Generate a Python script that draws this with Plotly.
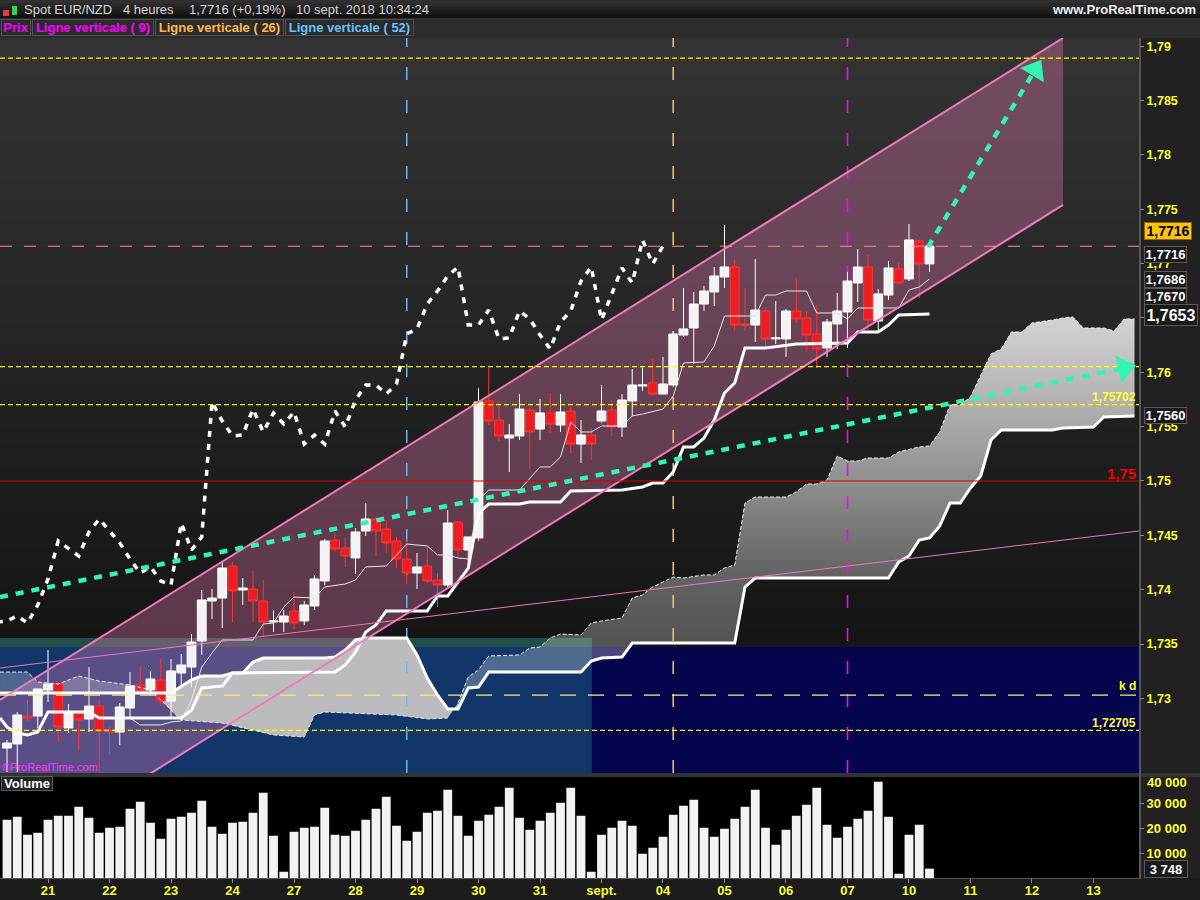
import plotly.graph_objects as go

# 4h bars, index 0 to 90
opens = [1.72543, 1.72580, 1.72837, 1.72837, 1.73077, 1.73132, 1.72727, 1.72865, 1.72810, 1.72929,
         1.72709, 1.72690, 1.72911, 1.73123, 1.73077, 1.73169, 1.72975, 1.73233, 1.73288, 1.73528,
         1.73896, 1.73923, 1.74218, 1.73997, 1.74006, 1.73896, 1.73702, 1.73702, 1.73804, 1.73712,
         1.73850, 1.74080, 1.74457, 1.74384, 1.74292, 1.74540, 1.74650, 1.74558, 1.74448, 1.74282,
         1.74153, 1.74218, 1.74089, 1.74043, 1.74623, 1.74365, 1.74476, 1.75736, 1.75561, 1.75395,
         1.75414, 1.75653, 1.75478, 1.75626, 1.75515, 1.75644, 1.75340, 1.75423, 1.75552, 1.75653,
         1.75497, 1.75736, 1.75874, 1.75902, 1.75800, 1.75883, 1.76343, 1.76408, 1.76628, 1.76739,
         1.76877, 1.76969, 1.76445, 1.76435, 1.76564, 1.76307, 1.76307, 1.76564, 1.76500, 1.76352,
         1.76224, 1.76445, 1.76555, 1.76822, 1.76969, 1.76472, 1.76711, 1.76951, 1.76859, 1.77208,
         1.76997]
highs = [1.72617, 1.72874, 1.72985, 1.73086, 1.73445, 1.73150, 1.72948, 1.72865, 1.73288, 1.72985,
         1.72736, 1.72957, 1.73242, 1.73298, 1.73252, 1.73362, 1.73362, 1.73408, 1.73592, 1.73997,
         1.74006, 1.74264, 1.74255, 1.74107, 1.74172, 1.74089, 1.73813, 1.73813, 1.73979, 1.73896,
         1.74135, 1.74466, 1.74521, 1.74476, 1.74567, 1.74797, 1.74669, 1.74641, 1.74485, 1.74457,
         1.74338, 1.74393, 1.74153, 1.74733, 1.74632, 1.74485, 1.75856, 1.76040, 1.75727, 1.75524,
         1.75800, 1.75671, 1.75754, 1.75810, 1.75800, 1.75681, 1.75561, 1.75488, 1.75883, 1.75745,
         1.75800, 1.76030, 1.76049, 1.76122, 1.76141, 1.76380, 1.76776, 1.76739, 1.76794, 1.76969,
         1.77356, 1.77033, 1.76776, 1.77043, 1.76601, 1.76656, 1.76582, 1.76868, 1.76564, 1.76619,
         1.76491, 1.76730, 1.76923, 1.77135, 1.77080, 1.76767, 1.77024, 1.77006, 1.77365, 1.77218,
         1.77162]
lows = [1.72322, 1.72322, 1.72792, 1.72727, 1.72966, 1.72598, 1.72681, 1.72525, 1.72690, 1.72322,
        1.72488, 1.72571, 1.72828, 1.73058, 1.73031, 1.72929, 1.72828, 1.73104, 1.73104, 1.73399,
        1.73730, 1.73647, 1.73702, 1.73859, 1.73702, 1.73564, 1.73610, 1.73610, 1.73638, 1.73675,
        1.73813, 1.74043, 1.74347, 1.74209, 1.74144, 1.74494, 1.74310, 1.74338, 1.74199, 1.74052,
        1.74006, 1.74061, 1.73841, 1.74025, 1.74292, 1.74181, 1.74448, 1.75515, 1.75368, 1.75083,
        1.75377, 1.75110, 1.75377, 1.75441, 1.75451, 1.75257, 1.75166, 1.75193, 1.75533, 1.75414,
        1.75405, 1.75598, 1.75828, 1.75791, 1.75800, 1.75865, 1.76325, 1.76076, 1.76564, 1.76610,
        1.76776, 1.76380, 1.76380, 1.76279, 1.76233, 1.76260, 1.76141, 1.76454, 1.76187, 1.76040,
        1.76141, 1.76215, 1.76224, 1.76647, 1.76389, 1.76362, 1.76665, 1.76813, 1.76840, 1.76684,
        1.76923]
closes = [1.72589, 1.72847, 1.72819, 1.73086, 1.73132, 1.72736, 1.72865, 1.72801, 1.72929, 1.72699,
          1.72690, 1.72920, 1.73113, 1.73077, 1.73178, 1.72975, 1.73252, 1.73307, 1.73518, 1.73905,
          1.73923, 1.74199, 1.73988, 1.74015, 1.73896, 1.73702, 1.73712, 1.73758, 1.73693, 1.73859,
          1.74098, 1.74448, 1.74375, 1.74310, 1.74531, 1.74650, 1.74540, 1.74430, 1.74282, 1.74153,
          1.74209, 1.74080, 1.74043, 1.74613, 1.74365, 1.74485, 1.75727, 1.75552, 1.75414, 1.75423,
          1.75662, 1.75451, 1.75626, 1.75524, 1.75635, 1.75340, 1.75423, 1.75340, 1.75644, 1.75497,
          1.75745, 1.75883, 1.75883, 1.75800, 1.75892, 1.76352, 1.76399, 1.76628, 1.76748, 1.76886,
          1.76969, 1.76435, 1.76435, 1.76573, 1.76307, 1.76316, 1.76564, 1.76491, 1.76343, 1.76215,
          1.76463, 1.76564, 1.76840, 1.76969, 1.76481, 1.76721, 1.76960, 1.76822, 1.77218, 1.76997,
          1.77162]
volumes = [23300, 24500, 17300, 18100, 23300, 24900, 24900, 28500, 24100, 18100,
           20100, 20500, 27700, 30500, 22100, 15700, 23700, 24500, 26100, 30900,
           20500, 17700, 22100, 22500, 26100, 34100, 16900, 2500, 18500, 20100,
           20500, 28100, 17300, 16900, 18900, 23300, 27700, 32500, 20900, 14900,
           18500, 26100, 26900, 35300, 24900, 16900, 22900, 25300, 28500, 36100,
           24100, 19300, 22900, 26100, 30100, 36100, 24900, 2500, 17300, 20100,
           22900, 20900, 9700, 12100, 16500, 25300, 28900, 31300, 20100, 16500,
           19700, 23700, 28500, 35300, 20100, 13300, 19300, 24900, 29300, 36100,
           21300, 16100, 20500, 23700, 26900, 38500, 24500, 1700, 17300, 21300,
           3748]

tenkan_x = [4, 8, 9, 12, 13, 15, 16, 17, 18, 19, 20, 21, 24, 25, 26, 27, 28, 30, 31, 33,
            34, 35, 37, 39, 41, 42, 43, 44, 45, 46, 47, 50, 52, 53, 54, 55, 56, 57, 58, 60,
            61, 62, 64, 65, 66, 68, 69, 70, 73, 74, 75, 76, 78, 79, 81, 82, 83, 87, 88, 89, 90]
tenkan = [1.72874, 1.72874, 1.72819, 1.72819, 1.72755, 1.72755, 1.72782, 1.72792, 1.72985, 1.73288,
          1.73417, 1.73537, 1.73537, 1.73684, 1.73693, 1.73841, 1.73932, 1.73923, 1.74025, 1.74052,
          1.74089, 1.74209, 1.74218, 1.74420, 1.74402, 1.74319, 1.74319, 1.74292, 1.74282, 1.74825,
          1.74917, 1.74917, 1.75129, 1.75129, 1.75221, 1.75543, 1.75451, 1.75451, 1.75506, 1.75506,
          1.75598, 1.75616, 1.75662, 1.75782, 1.76086, 1.76095, 1.76242, 1.76518, 1.76518, 1.76711,
          1.76711, 1.76748, 1.76748, 1.76546, 1.76546, 1.76491, 1.76592, 1.76592, 1.76757, 1.76785,
          1.76859]
kijun_x = [-0.68, 0, 1, 2, 3, 4, 8, 9, 17, 18, 19, 21, 22, 32, 33, 34, 35, 36, 37, 41,
           42, 43, 45, 46, 47, 50, 51, 54, 55, 60, 62, 63, 64, 65, 66, 67, 68, 69, 70, 71,
           72, 74, 77, 82, 83, 85, 86, 87, 90]
kijun = [1.72819, 1.72736, 1.72681, 1.72663, 1.72690, 1.72874, 1.72874, 1.72819, 1.72819, 1.72893,
         1.73095, 1.73113, 1.73233, 1.73242, 1.73307, 1.73426, 1.73610, 1.73675, 1.73804, 1.73804,
         1.73942, 1.73942, 1.74199, 1.74705, 1.74788, 1.74788, 1.74807, 1.74807, 1.74908, 1.74917,
         1.74945, 1.74981, 1.74981, 1.75083, 1.75313, 1.75313, 1.75395, 1.75561, 1.75810, 1.75902,
         1.76224, 1.76224, 1.76260, 1.76270, 1.76371, 1.76371, 1.76435, 1.76527, 1.76537]
span_a_x = [-0.68, 2, 3, 5, 7, 9, 12, 14, 17, 21, 24, 26, 29, 30, 31, 38, 41, 43, 44, 45,
            46, 47, 50, 51, 52, 53, 54, 56, 57, 58, 60, 61, 62, 63, 65, 66, 68, 69, 70, 71,
            72, 73, 76, 77, 78, 79, 80, 81, 82, 83, 84, 86, 87, 89, 90, 91, 92, 93, 94, 95,
            96, 97, 98, 99, 100, 102, 103, 104, 105, 107, 108, 109, 110]
span_a = [1.73242, 1.73242, 1.73150, 1.73132, 1.73205, 1.73159, 1.73123, 1.73077, 1.72801, 1.72773,
          1.72709, 1.72663, 1.72644, 1.72847, 1.72874, 1.72847, 1.72810, 1.72819, 1.72957, 1.73196,
          1.73261, 1.73390, 1.73399, 1.73463, 1.73472, 1.73555, 1.73592, 1.73583, 1.73693, 1.73712,
          1.73739, 1.73923, 1.73951, 1.74025, 1.74116, 1.74107, 1.74135, 1.74135, 1.74199, 1.74227,
          1.74797, 1.74852, 1.74852, 1.74899, 1.74972, 1.74972, 1.75009, 1.75230, 1.75184, 1.75184,
          1.75211, 1.75211, 1.75267, 1.75313, 1.75322, 1.75451, 1.75699, 1.75699, 1.75773, 1.75975,
          1.76169, 1.76215, 1.76371, 1.76371, 1.76454, 1.76481, 1.76500, 1.76509, 1.76408, 1.76408,
          1.76380, 1.76491, 1.76491]
span_b_x = [-0.68, 14, 16, 18, 19, 21, 22, 23, 24, 25, 31, 32, 33, 34, 35, 39, 40, 41, 42, 43,
            44, 45, 46, 47, 56, 57, 58, 60, 61, 71, 72, 73, 86, 87, 88, 89, 90, 91, 92, 93,
            94, 95, 96, 97, 102, 103, 106, 107, 110]
span_b = [1.73049, 1.73049, 1.73049, 1.73169, 1.73205, 1.73205, 1.73233, 1.73233, 1.73334, 1.73371,
          1.73371, 1.73380, 1.73445, 1.73537, 1.73555, 1.73555, 1.73399, 1.73187, 1.73031, 1.72902,
          1.72902, 1.73095, 1.73104, 1.73242, 1.73242, 1.73343, 1.73371, 1.73380, 1.73509, 1.73509,
          1.74025, 1.74107, 1.74107, 1.74255, 1.74310, 1.74457, 1.74476, 1.74586, 1.74797, 1.74797,
          1.74936, 1.75046, 1.75377, 1.75469, 1.75469, 1.75487, 1.75497, 1.75589, 1.75598]

channel_x = [-0.68, 103.03]
channel_upper = [1.72985, 1.79076]
channel_lower = [1.71447, 1.77540]
trend_x = [-0.68, 110.44]
trend = [1.73279, 1.74540]
arrow_low_x = [-0.68, 109.0]
arrow_low = [1.73932, 1.76040]
arrow_high_x = [89.85, 100.3]
arrow_high = [1.77153, 1.78782]

day_ticks = [4, 10, 16, 22, 28, 34, 40, 46, 52, 58, 64, 70, 76, 82, 88, 94, 100, 106]
day_labels = ["21", "22", "23", "24", "27", "28", "29", "30", "31", "sept.",
              "04", "05", "06", "07", "10", "11", "12", "13"]
price_ticks = [1.73, 1.735, 1.74, 1.745, 1.75, 1.755, 1.76, 1.765, 1.77, 1.775, 1.78, 1.785, 1.79]
price_labels = ["1,73", "1,735", "1,74", "1,745", "1,75", "1,755", "1,76", "1,765", "1,77", "1,775",
                "1,78", "1,785", "1,79"]
volume_ticks = [10000, 20000, 30000]
volume_labels = ["10 000", "20 000", "30 000"]

vertical_lines = [39, 65, 82]
vertical_colors = ["#6ab8ea", "#ffb84d", "#ff00ff"]
vertical_widths = [1.5, 1.6, 1.6]
level_short = [1.7889, 1.76053, 1.75702, 1.72705]
level_kd = 1.7303
level_last = 1.7716
level_red = 1.75

X_RANGE = [-0.683, 110.44]
Y_RANGE = [1.72313, 1.79076]
ZONE_TOP = 1.73555
ZONE_MID = 1.73472
ZONE_SPLIT = 57.07

FONT = "Liberation Sans"
TEAL = "#30f5b4"
PINK = "#f07ab8"


def px(x):
    return x / 1200


def py(y):
    return 1 - y / 900


def rect(x0, y0, x1, y1, color):
    fig.add_shape(type="rect", xref="paper", yref="paper", x0=px(x0), x1=px(x1), y0=py(y0), y1=py(y1),
                  fillcolor=color, line_width=0, layer="below")


def label(text, x, y, color, size=12, bold=True, anchor="left", **kw):
    fig.add_annotation(text=f"<b>{text}</b>" if bold else text, xref="paper", yref="paper",
                       x=px(x), y=py(y), xanchor=anchor, yanchor="middle", showarrow=False,
                       font=dict(family=FONT, size=size, color=color), **kw)


def price_box(text, x0, x1, y0, y1, size=13, color="white", bg="#1a1a1a", border="#5a5a5a"):
    label(text, (x0 + x1) / 2, (y0 + y1) / 2, color, size=size, anchor="center", bgcolor=bg,
          bordercolor=border, borderwidth=1, borderpad=0, width=x1 - x0 - 2, height=y1 - y0 - 2)


def legend_box(text, x0, x1, color):
    label(text, (x0 + x1) / 2, 28, color, size=13, anchor="center", bgcolor="#2b2b2b",
          bordercolor="#4f4f4f", borderwidth=1, borderpad=0, width=x1 - x0 - 2, height=15)


fig = go.Figure()

# backgrounds
for k in range(36):
    grey = round(51 - k * 36 / 35)
    rect(0, 38 + k * 735 / 36, 1139, 38 + (k + 1) * 735 / 36 + 0.5, f"rgb({grey},{grey},{grey})")
for k in range(6):
    grey = round(48 - k * 6)
    rect(0, k * 3, 1200, (k + 1) * 3, f"rgb({grey},{grey},{grey})")
rect(0, 18, 1200, 38, "#2c2c2c")
rect(0, 773, 1200, 777, "#333333")
rect(0, 777, 1139, 878, "#000000")
rect(0, 878, 1200, 900, "#1c1c1c")
rect(1139, 38, 1141, 878, "#555555")
rect(0, 878, 1141, 879, "#555555")
# little candle icon
rect(3, 10, 9, 16, "#e83a3a")
rect(12, 6, 17, 15, "#2fd44a")

fig.add_shape(type="rect", xref="x", yref="y", x0=X_RANGE[0], x1=ZONE_SPLIT, y0=ZONE_MID, y1=ZONE_TOP,
              fillcolor="#1f4f48", line_width=0, layer="below")
fig.add_shape(type="rect", xref="x", yref="y", x0=X_RANGE[0], x1=ZONE_SPLIT, y0=Y_RANGE[0], y1=ZONE_MID,
              fillcolor="#12356a", line_width=0, layer="below")
fig.add_shape(type="rect", xref="x", yref="y", x0=ZONE_SPLIT, x1=X_RANGE[1], y0=Y_RANGE[0], y1=ZONE_MID,
              fillcolor="#05054e", line_width=0, layer="below")

# channel fill and cloud sit under the candles, on the base y axis
fig.add_trace(go.Scatter(x=channel_x + channel_x[::-1], y=channel_upper + channel_lower[::-1],
                         mode="lines", line_width=0, fill="toself", fillcolor="rgba(255,132,193,0.31)",
                         hoverinfo="skip", showlegend=False))


def cloud_polygon(lo, hi):
    ax = [x for x in span_a_x if lo <= x <= hi]
    ay = [v for x, v in zip(span_a_x, span_a) if lo <= x <= hi]
    bx = [x for x in span_b_x if lo <= x <= hi]
    by = [v for x, v in zip(span_b_x, span_b) if lo <= x <= hi]
    return ax + bx[::-1], ay + by[::-1]


cx, cy = cloud_polygon(-1, 14)
fig.add_trace(go.Scatter(x=cx, y=cy, mode="lines", line_width=0, fill="toself",
                         fillcolor="rgba(200,200,215,0.33)", hoverinfo="skip", showlegend=False))
cx, cy = cloud_polygon(14, 44)
fig.add_trace(go.Scatter(x=cx, y=cy, mode="lines", line_width=0, fill="toself",
                         fillcolor="#bcbcbf", hoverinfo="skip", showlegend=False))
cx, cy = cloud_polygon(44, 111)
fig.add_trace(go.Scatter(x=cx, y=cy, mode="lines", line_width=0, fill="toself",
                         fillgradient=dict(type="vertical", start=1.7351, stop=1.7651, colorscale=[
                             [0, "rgba(235,235,235,0.29)"], [0.22, "rgba(235,235,235,0.36)"],
                             [0.62, "rgba(235,235,235,0.64)"], [1, "rgba(235,235,235,0.88)"]]),
                         hoverinfo="skip", showlegend=False))

for vx, vc, vw in zip(vertical_lines, vertical_colors, vertical_widths):
    fig.add_trace(go.Scatter(x=[vx, vx], y=Y_RANGE, mode="lines", hoverinfo="skip", showlegend=False,
                             line=dict(color=vc, width=vw, dash="13px,20px")))

fig.add_trace(go.Bar(x=list(range(len(volumes))), y=volumes, yaxis="y2", width=0.86,
                     marker=dict(color="#f2f2f2", line_width=0), showlegend=False))

# overlay axis: candles and every line above them
fig.add_trace(go.Candlestick(x=list(range(len(opens))), open=opens, high=highs, low=lows, close=closes,
                             yaxis="y3", whiskerwidth=0, showlegend=False,
                             increasing=dict(fillcolor="#f3f3f3", line=dict(color="#ffffff", width=1)),
                             decreasing=dict(fillcolor="#ea1c24", line=dict(color="#ff3434", width=1))))


def overlay_line(x, y, color, width, dash="solid"):
    fig.add_trace(go.Scatter(x=x, y=y, yaxis="y3", mode="lines", hoverinfo="skip", showlegend=False,
                             line=dict(color=color, width=width, dash=dash)))


overlay_line(span_a_x[:18], span_a[:18], "#e8e8e8", 1, "4px,2px")
overlay_line(span_a_x[18:], span_a[18:], "#f0f0f0", 1, "4px,2px")
overlay_line(tenkan_x, tenkan, "#e6e6e6", 1)
overlay_line(span_b_x, span_b, "#ffffff", 3)
overlay_line(kijun_x, kijun, "#ffffff", 3)
# lagging line is the close, shown 26 bars back
overlay_line([i - 26 for i in range(25, len(closes))], closes[25:], "#ffffff", 3.5, "6px,7px")
overlay_line(trend_x, trend, "#e878b4", 1)
overlay_line(channel_x, channel_upper, PINK, 2)
overlay_line(channel_x, channel_lower, PINK, 2)

for lv in level_short:
    overlay_line(X_RANGE, [lv, lv], "#ffff00", 1.2, "5px,3px")
overlay_line(X_RANGE, [level_kd, level_kd], "#f3ee7a", 1.2, "16px,12px")
overlay_line(X_RANGE, [level_last, level_last], "#ff8a8a", 1.2, "12px,12px")
overlay_line(X_RANGE, [level_red, level_red], "#d80000", 1)

for ax_, ay_ in ((arrow_low_x, arrow_low), (arrow_high_x, arrow_high)):
    fig.add_trace(go.Scatter(x=ax_, y=ay_, yaxis="y3", mode="lines+markers", hoverinfo="skip", showlegend=False,
                             line=dict(color=TEAL, width=4.5, dash="8px,8px"),
                             marker=dict(color=TEAL, opacity=1, size=[0, 24], symbol="triangle-up",
                                         angleref="previous", line_width=0)))

# header
label("Spot EUR/NZD", 22, 10, "#d6d6d6", size=13, bold=False)
label("4 heures", 121, 10, "#d6d6d6", size=13, bold=False)
label("1,7716 (+0,19%)", 187, 10, "#d6d6d6", size=13, bold=False)
label("10 sept. 2018 10:34:24", 294, 10, "#d6d6d6", size=13, bold=False)
label("www.ProRealTime.com", 1198, 10, "#f0f0f0", size=13, anchor="right")
legend_box("Prix", 1, 31, "#ff00ff")
legend_box("Ligne verticale ( 9)", 32, 154, "#ff00ff")
legend_box("Ligne verticale ( 26)", 155, 284, "#ffb84d")
legend_box("Ligne verticale ( 52)", 285, 414, "#6ac4f5")

# labels inside the chart
label("1,75702", 1138, 397, "#ffff33", size=12, anchor="right")
label("k d", 1138, 686, "#ffff33", size=12, anchor="right")
label("1,72705", 1138, 723, "#ffff33", size=12, anchor="right")
label("1,75", 1138, 474, "#ee0000", size=15, anchor="right")
label("©ProRealTime.com", 0, 767, "#ff33ff", size=11, bold=False)
price_box("Volume", 1, 53, 776, 791, size=13, bg="#222222")

# boxes on the price scale
price_box("1,7716", 1144, 1192, 222, 240, size=14, color="#000000", bg="#ffc20e", border="#8a6a00")
price_box("1,7716", 1144, 1187, 246, 263)
price_box("1,7686", 1144, 1187, 271, 288)
price_box("1,7670", 1144, 1187, 288, 305)
price_box("1,7653", 1144, 1198, 304, 326, size=16)
price_box("1,7560", 1144, 1187, 407, 424)
price_box("3 748", 1144, 1188, 860, 878)
label("40 000", 1145, 782, "#ffff33", size=13)

fig.update_layout(
    width=1200, height=900, autosize=False,
    margin=dict(l=0, r=0, t=0, b=0, autoexpand=False),
    paper_bgcolor="#212121", plot_bgcolor="rgba(0,0,0,0)",
    showlegend=False, boxgap=0.14, boxgroupgap=0, bargap=0.14, hovermode=False,
    font=dict(family=FONT),
    xaxis=dict(domain=[0, 1139 / 1200], range=X_RANGE, anchor="y2", tickmode="array", tickvals=day_ticks,
               ticktext=[f"<b>{t}</b>" for t in day_labels], ticks="outside", ticklen=4, tickcolor="#8a8a8a",
               tickfont=dict(family=FONT, size=13, color="#ffff33"), ticklabelstandoff=-4,
               showgrid=False, zeroline=False, rangeslider=dict(visible=False)),
    yaxis=dict(domain=[1 - 773 / 900, 1 - 38 / 900], range=Y_RANGE, anchor="x", side="right", tickmode="array",
               tickvals=price_ticks, ticktext=[f"<b>{t}</b>" for t in price_labels], ticks="outside", ticklen=4,
               tickcolor="#8a8a8a", tickfont=dict(family=FONT, size=12.5, color="#ffff33"), showgrid=False,
               zeroline=False),
    yaxis2=dict(domain=[1 - 878 / 900, 1 - 777 / 900], range=[0, 40400], anchor="x", side="right", tickmode="array",
                tickvals=volume_ticks, ticktext=[f"<b>{t}</b>" for t in volume_labels], ticks="outside", ticklen=4,
                tickcolor="#8a8a8a", tickfont=dict(family=FONT, size=13, color="#ffff33"), showgrid=False,
                zeroline=False),
    yaxis3=dict(range=Y_RANGE, overlaying="y", side="right", visible=False, showgrid=False, zeroline=False),
)

fig.write_html("out.html", config={"displayModeBar": False},
               post_script="document.body.style.margin='0';")
